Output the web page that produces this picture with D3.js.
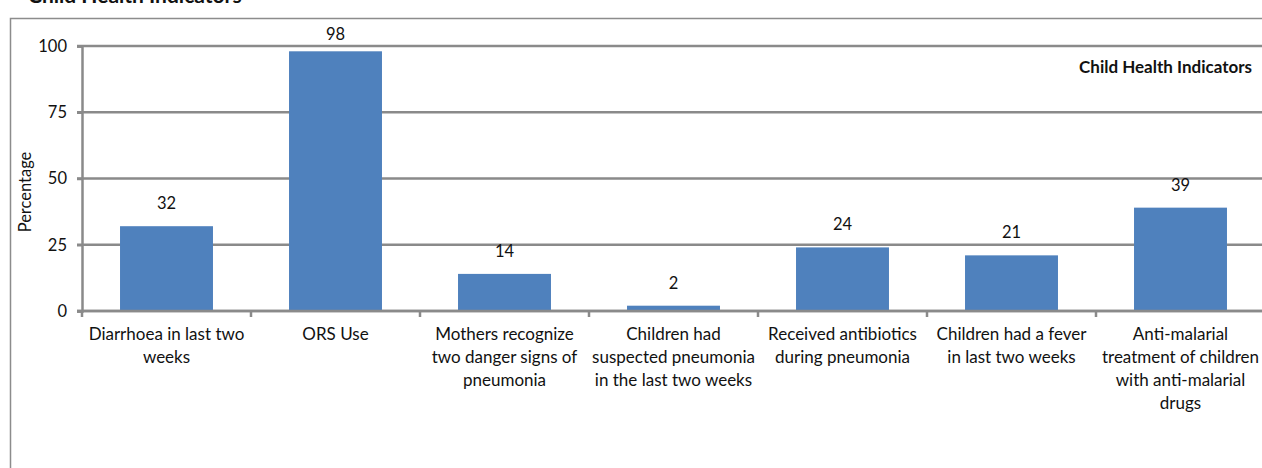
<!DOCTYPE html>
<html><head><meta charset="utf-8">
<script src="https://cdn.jsdelivr.net/npm/d3@7"></script>
<style>body{margin:0;background:#fff}svg{display:block}</style>
</head><body>
<svg id="c" width="1262" height="468"></svg>
<script>
const categories = [
  ["Diarrhoea in last two","weeks"],
  ["ORS Use"],
  ["Mothers recognize","two danger signs of","pneumonia"],
  ["Children had","suspected pneumonia","in the last two weeks"],
  ["Received antibiotics","during pneumonia"],
  ["Children had a fever","in last two weeks"],
  ["Anti-malarial","treatment of children","with anti-malarial","drugs"]
];
const values = [32, 98, 14, 2, 24, 21, 39];
const yTicks = [0, 25, 50, 75, 100];
const title = "Child Health Indicators";
const yLabel = "Percentage";

const font = "Lato, 'Open Sans', sans-serif";
const grid = "#8a8a8a";
const svg = d3.select("#c");
const L = 82, R = 1265, T = 46, B = 311;

// outer frame
svg.append("path").attr("d", "M10.5,468 V18.5 H1262")
  .attr("fill", "none").attr("stroke", "#8c8c8c").attr("stroke-width", 1.5);

// cut-off title at top
svg.append("text").attr("x", 28).attr("y", 3).attr("font-family", font)
  .attr("font-weight", "bold").attr("font-size", 21).attr("fill", "#111").text(title);

const x = d3.scaleBand().domain(d3.range(categories.length)).range([L, R]).paddingInner(0.45).paddingOuter(0.225);
const xb = d3.scaleBand().domain(d3.range(categories.length)).range([L, R]);
const y = d3.scaleLinear().domain([0, 100]).range([B, T]);

// gridlines
svg.append("g").selectAll("line").data(yTicks).join("line")
  .attr("x1", L - 5).attr("x2", R).attr("y1", d => y(d)).attr("y2", d => y(d))
  .attr("stroke", grid).attr("stroke-width", 2.5);

// y axis
const ya = svg.append("g").attr("transform", `translate(${L},0)`)
  .call(d3.axisLeft(y).tickValues(yTicks).tickSize(5).tickPadding(10));
ya.select(".domain").attr("stroke", grid).attr("stroke-width", 2.5);
ya.selectAll(".tick line").attr("stroke", grid).attr("stroke-width", 2.5);
ya.selectAll("text").attr("font-family", font).attr("font-size", 16.5).attr("fill", "#111");

// bars
svg.append("g").selectAll("rect").data(values).join("rect")
  .attr("x", (d, i) => x(i)).attr("width", x.bandwidth())
  .attr("y", d => y(d)).attr("height", d => y(0) - y(d))
  .attr("fill", "#4f81bd");

// x axis line and category ticks
svg.append("line").attr("x1", L - 5).attr("x2", R).attr("y1", B).attr("y2", B)
  .attr("stroke", grid).attr("stroke-width", 2.5);
svg.append("g").selectAll("line").data(d3.range(categories.length + 1)).join("line")
  .attr("x1", i => L + i * xb.step()).attr("x2", i => L + i * xb.step())
  .attr("y1", B).attr("y2", B + 6).attr("stroke", grid).attr("stroke-width", 2.5);

// value labels
svg.append("g").selectAll("text").data(values).join("text")
  .attr("x", (d, i) => x(i) + x.bandwidth() / 2).attr("y", d => Math.max(y(d) - 17, T - 6))
  .attr("text-anchor", "middle").attr("font-family", font).attr("font-size", 16.5)
  .attr("fill", "#111").text(d => d);

// category labels
const cl = svg.append("g").selectAll("text").data(categories).join("text")
  .attr("x", (d, i) => xb(i) + xb.bandwidth() / 2).attr("y", 340)
  .attr("text-anchor", "middle").attr("font-family", font).attr("font-size", 17).attr("fill", "#111");
cl.selectAll("tspan").data(d => d).join("tspan")
  .attr("x", function () { return this.parentNode.getAttribute("x"); })
  .attr("dy", (d, j) => j === 0 ? 0 : 23).text(d => d);

// inner title
svg.append("text").attr("x", 1252).attr("y", 73).attr("text-anchor", "end")
  .attr("font-family", font).attr("font-weight", "bold").attr("font-size", 17)
  .attr("fill", "#111").text(title);

// y label
svg.append("text").attr("transform", "translate(31,192) rotate(-90)")
  .attr("text-anchor", "middle").attr("font-family", font).attr("font-size", 16.5)
  .attr("fill", "#111").text(yLabel);
</script>
</body></html>
